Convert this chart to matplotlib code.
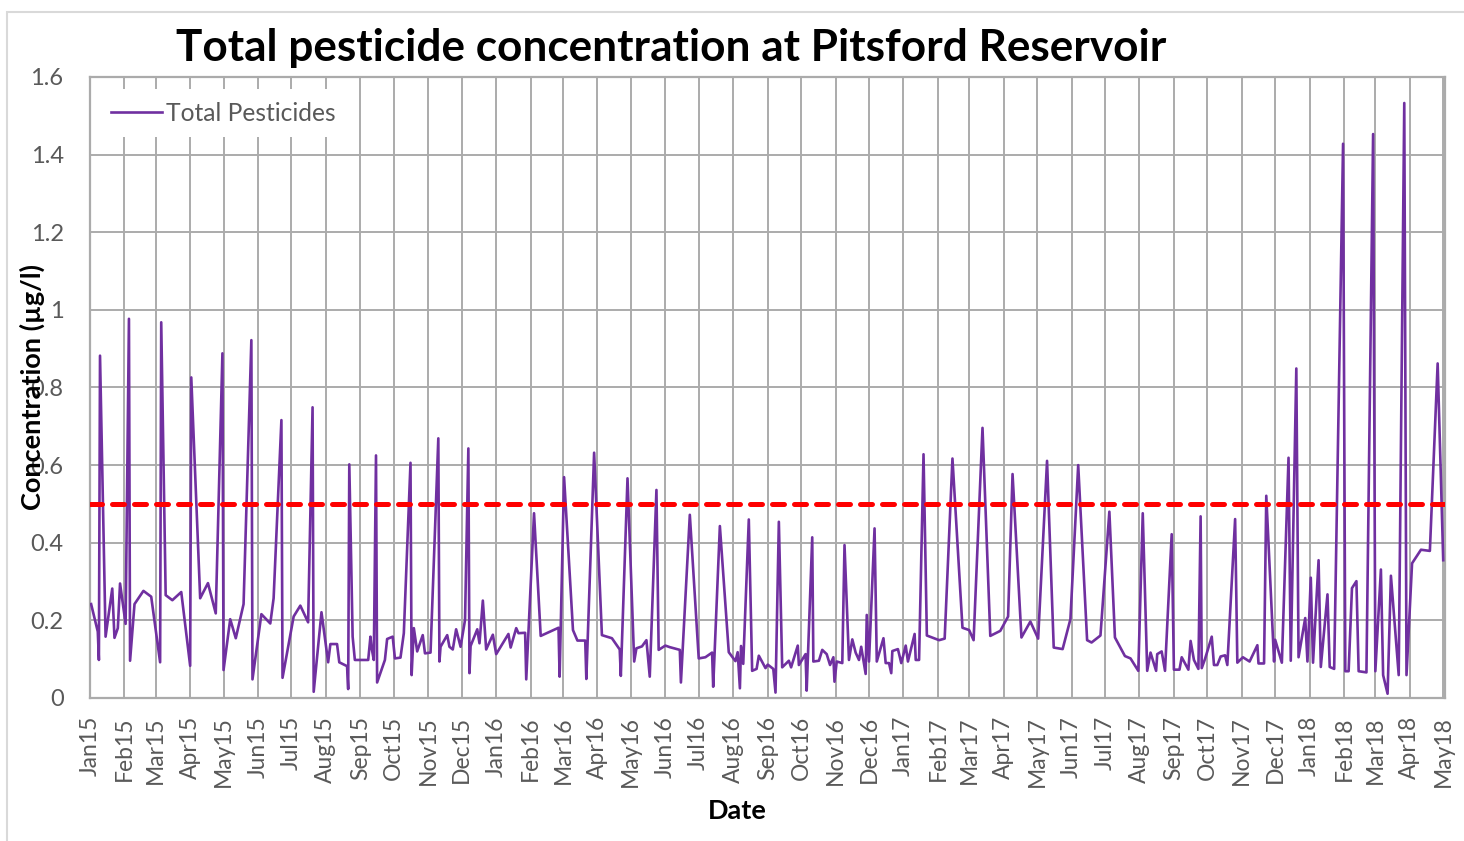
import matplotlib
matplotlib.use("Agg")
import matplotlib.pyplot as plt
import matplotlib.dates as mdates
import matplotlib.patches as mpatches
import pandas as pd

plt.rcParams['font.family'] = ['Lato', 'DejaVu Sans']

start = pd.Timestamp('2015-01-01')

# sampling day (days after 1 Jan 2015) and total pesticide concentration (ug/l)
sample_day = [
    1, 7, 8, 9, 14, 20, 22, 25, 27, 32, 35, 36, 40, 48, 55, 63, 64, 68, 74, 82,
    90, 91, 99, 106, 113, 119, 120, 126, 131, 138, 145, 146, 154, 162, 165, 172, 173, 183, 189, 196,
    200, 201, 208, 214, 216, 222, 224, 231, 232, 233, 236, 238, 250, 252, 253, 255, 257, 258, 265, 267,
    272, 274, 279, 282, 288, 289, 291, 294, 299, 301, 306, 313, 314, 315, 321, 323, 326, 329, 333, 337,
    340, 341, 342, 348, 350, 353, 356, 362, 365, 376, 378, 383, 385, 391, 392, 399, 405, 421, 422, 426,
    434, 438, 445, 446, 453, 460, 469, 476, 477, 483, 489, 491, 496, 500, 503, 509, 511, 517, 521, 530,
    531, 539, 547, 553, 559, 560, 566, 574, 580, 582, 584, 585, 587, 592, 595, 599, 601, 607, 609, 614,
    616, 619, 622, 628, 630, 636, 637, 643, 644, 649, 650, 655, 658, 662, 665, 668, 669, 671, 676, 678,
    682, 685, 688, 691, 693, 697, 698, 700, 705, 707, 713, 715, 718, 720, 721, 726, 729, 733, 735, 741,
    742, 745, 749, 752, 763, 768, 775, 784, 790, 794, 802, 809, 818, 825, 829, 837, 845, 852, 860, 866,
    874, 881, 888, 896, 900, 908, 916, 921, 930, 935, 942, 946, 950, 953, 958, 959, 963, 966, 972, 974,
    979, 981, 987, 989, 992, 996, 998, 999, 1002, 1008, 1010, 1013, 1016, 1020, 1022, 1029, 1031, 1036, 1042, 1049,
    1050, 1055, 1057, 1064, 1065, 1071, 1077, 1079, 1084, 1086, 1092, 1094, 1097, 1099, 1104, 1106, 1112, 1114, 1118, 1126,
    1128, 1131, 1134, 1138, 1140, 1147, 1153, 1155, 1160, 1162, 1166, 1169, 1176, 1181, 1183, 1188, 1196, 1204, 1211, 1216,
]
total_pesticides = [
    0.242, 0.171, 0.098, 0.882, 0.158, 0.282, 0.155, 0.18, 0.295, 0.191, 0.977, 0.096, 0.242, 0.276, 0.261, 0.092, 0.968, 0.265, 0.252, 0.273,
    0.083, 0.826, 0.257, 0.296, 0.218, 0.888, 0.072, 0.203, 0.154, 0.242, 0.922, 0.048, 0.216, 0.192, 0.257, 0.716, 0.052, 0.21, 0.238, 0.195,
    0.749, 0.016, 0.221, 0.092, 0.139, 0.139, 0.092, 0.082, 0.023, 0.602, 0.158, 0.098, 0.098, 0.158, 0.13, 0.098, 0.625, 0.04, 0.098, 0.152,
    0.158, 0.102, 0.104, 0.167, 0.606, 0.059, 0.18, 0.12, 0.162, 0.115, 0.117, 0.669, 0.094, 0.132, 0.162, 0.132, 0.125, 0.177, 0.132, 0.201,
    0.643, 0.064, 0.134, 0.177, 0.141, 0.251, 0.125, 0.163, 0.113, 0.165, 0.13, 0.18, 0.167, 0.168, 0.048, 0.476, 0.16, 0.181, 0.055, 0.569,
    0.175, 0.148, 0.148, 0.049, 0.632, 0.162, 0.154, 0.125, 0.057, 0.566, 0.094, 0.128, 0.133, 0.149, 0.055, 0.536, 0.124, 0.135, 0.131, 0.124,
    0.04, 0.472, 0.102, 0.105, 0.117, 0.029, 0.443, 0.118, 0.095, 0.118, 0.025, 0.134, 0.088, 0.46, 0.07, 0.075, 0.109, 0.077, 0.086, 0.075,
    0.014, 0.454, 0.079, 0.096, 0.079, 0.135, 0.085, 0.113, 0.019, 0.414, 0.094, 0.096, 0.124, 0.113, 0.085, 0.105, 0.042, 0.094, 0.09, 0.394,
    0.098, 0.151, 0.117, 0.098, 0.132, 0.062, 0.214, 0.094, 0.437, 0.094, 0.154, 0.09, 0.09, 0.064, 0.121, 0.126, 0.09, 0.135, 0.094, 0.165,
    0.098, 0.098, 0.628, 0.161, 0.149, 0.153, 0.617, 0.181, 0.175, 0.149, 0.696, 0.16, 0.173, 0.21, 0.577, 0.156, 0.197, 0.153, 0.611, 0.13,
    0.126, 0.203, 0.6, 0.149, 0.143, 0.161, 0.48, 0.156, 0.108, 0.102, 0.07, 0.476, 0.07, 0.117, 0.07, 0.113, 0.12, 0.07, 0.422, 0.073,
    0.073, 0.105, 0.073, 0.147, 0.098, 0.075, 0.468, 0.077, 0.101, 0.158, 0.085, 0.085, 0.107, 0.11, 0.085, 0.461, 0.091, 0.105, 0.094, 0.136,
    0.089, 0.089, 0.521, 0.094, 0.15, 0.091, 0.619, 0.096, 0.849, 0.105, 0.206, 0.094, 0.31, 0.091, 0.355, 0.08, 0.267, 0.08, 0.075, 1.428,
    0.069, 0.069, 0.283, 0.301, 0.069, 0.066, 1.453, 0.069, 0.331, 0.059, 0.011, 0.315, 0.059, 1.533, 0.059, 0.347, 0.382, 0.379, 0.862, 0.355,
]
limit = 0.5  # drinking water standard for total pesticides

dates = start + pd.to_timedelta(sample_day, unit='D')

grey = '#595959'
grid_c = '#ABABAB'

fig = plt.figure(figsize=(14.64, 8.41), dpi=100)
ax = fig.add_axes([90 / 1464, 1 - 698 / 841, 1355 / 1464, 621 / 841])

# chart area border
fig.patches.append(mpatches.Rectangle((7 / 1464, -0.01), 1.02, 1 - 12 / 841 + 0.01,
                                      transform=fig.transFigure, fill=False,
                                      edgecolor='#D9D9D9', lw=1.5))

ax.plot(dates, total_pesticides, color='#7030A0', lw=1.9, label='Total Pesticides', zorder=3)
ax.axhline(limit, color='#FF0000', lw=3.6, dashes=(2.4, 2.0), dash_capstyle='round', zorder=4)

ax.set_ylim(0, 1.6)
ax.set_yticks([0, 0.2, 0.4, 0.6, 0.8, 1.0, 1.2, 1.4, 1.6])
ax.yaxis.set_major_formatter(plt.FuncFormatter(lambda v, p: f'{v:g}'))
ax.set_xlim(start, start + pd.Timedelta(days=1217.6))
ax.xaxis.set_major_locator(mdates.MonthLocator())
ax.xaxis.set_major_formatter(mdates.DateFormatter('%b%y'))

ax.grid(True, color=grid_c, lw=1.4, zorder=0)
ax.set_axisbelow(True)
for s in ax.spines.values():
    s.set_color(grid_c)
    s.set_linewidth(1.6)

ax.tick_params(axis='x', length=0, pad=13, labelsize=16.5, labelcolor=grey, rotation=90)
ax.tick_params(axis='y', length=0, pad=19, labelsize=17, labelcolor=grey)

ax.set_ylabel('Concentration (µg/l)', fontsize=19.5, fontweight='bold')
ax.yaxis.set_label_coords(-0.033, 0.5)
ax.set_xlabel('Date', fontsize=19.5, fontweight='bold')
ax.xaxis.set_label_coords(0.4775, -0.163)

fig.text(671 / 1464, 1 - 48 / 841, 'Total pesticide concentration at Pitsford Reservoir',
         ha='center', va='center', fontsize=31.8, fontweight='bold')

leg = ax.legend(loc='upper left', bbox_to_anchor=(-0.003, 1.0), frameon=True, fontsize=17.7,
                handlelength=2.1, handletextpad=0.15, borderpad=0.5)
leg.get_frame().set_edgecolor('none')
leg.get_frame().set_facecolor('white')
leg.get_frame().set_alpha(1)
for t in leg.get_texts():
    t.set_color(grey)

fig.savefig('out.png', dpi=100)
